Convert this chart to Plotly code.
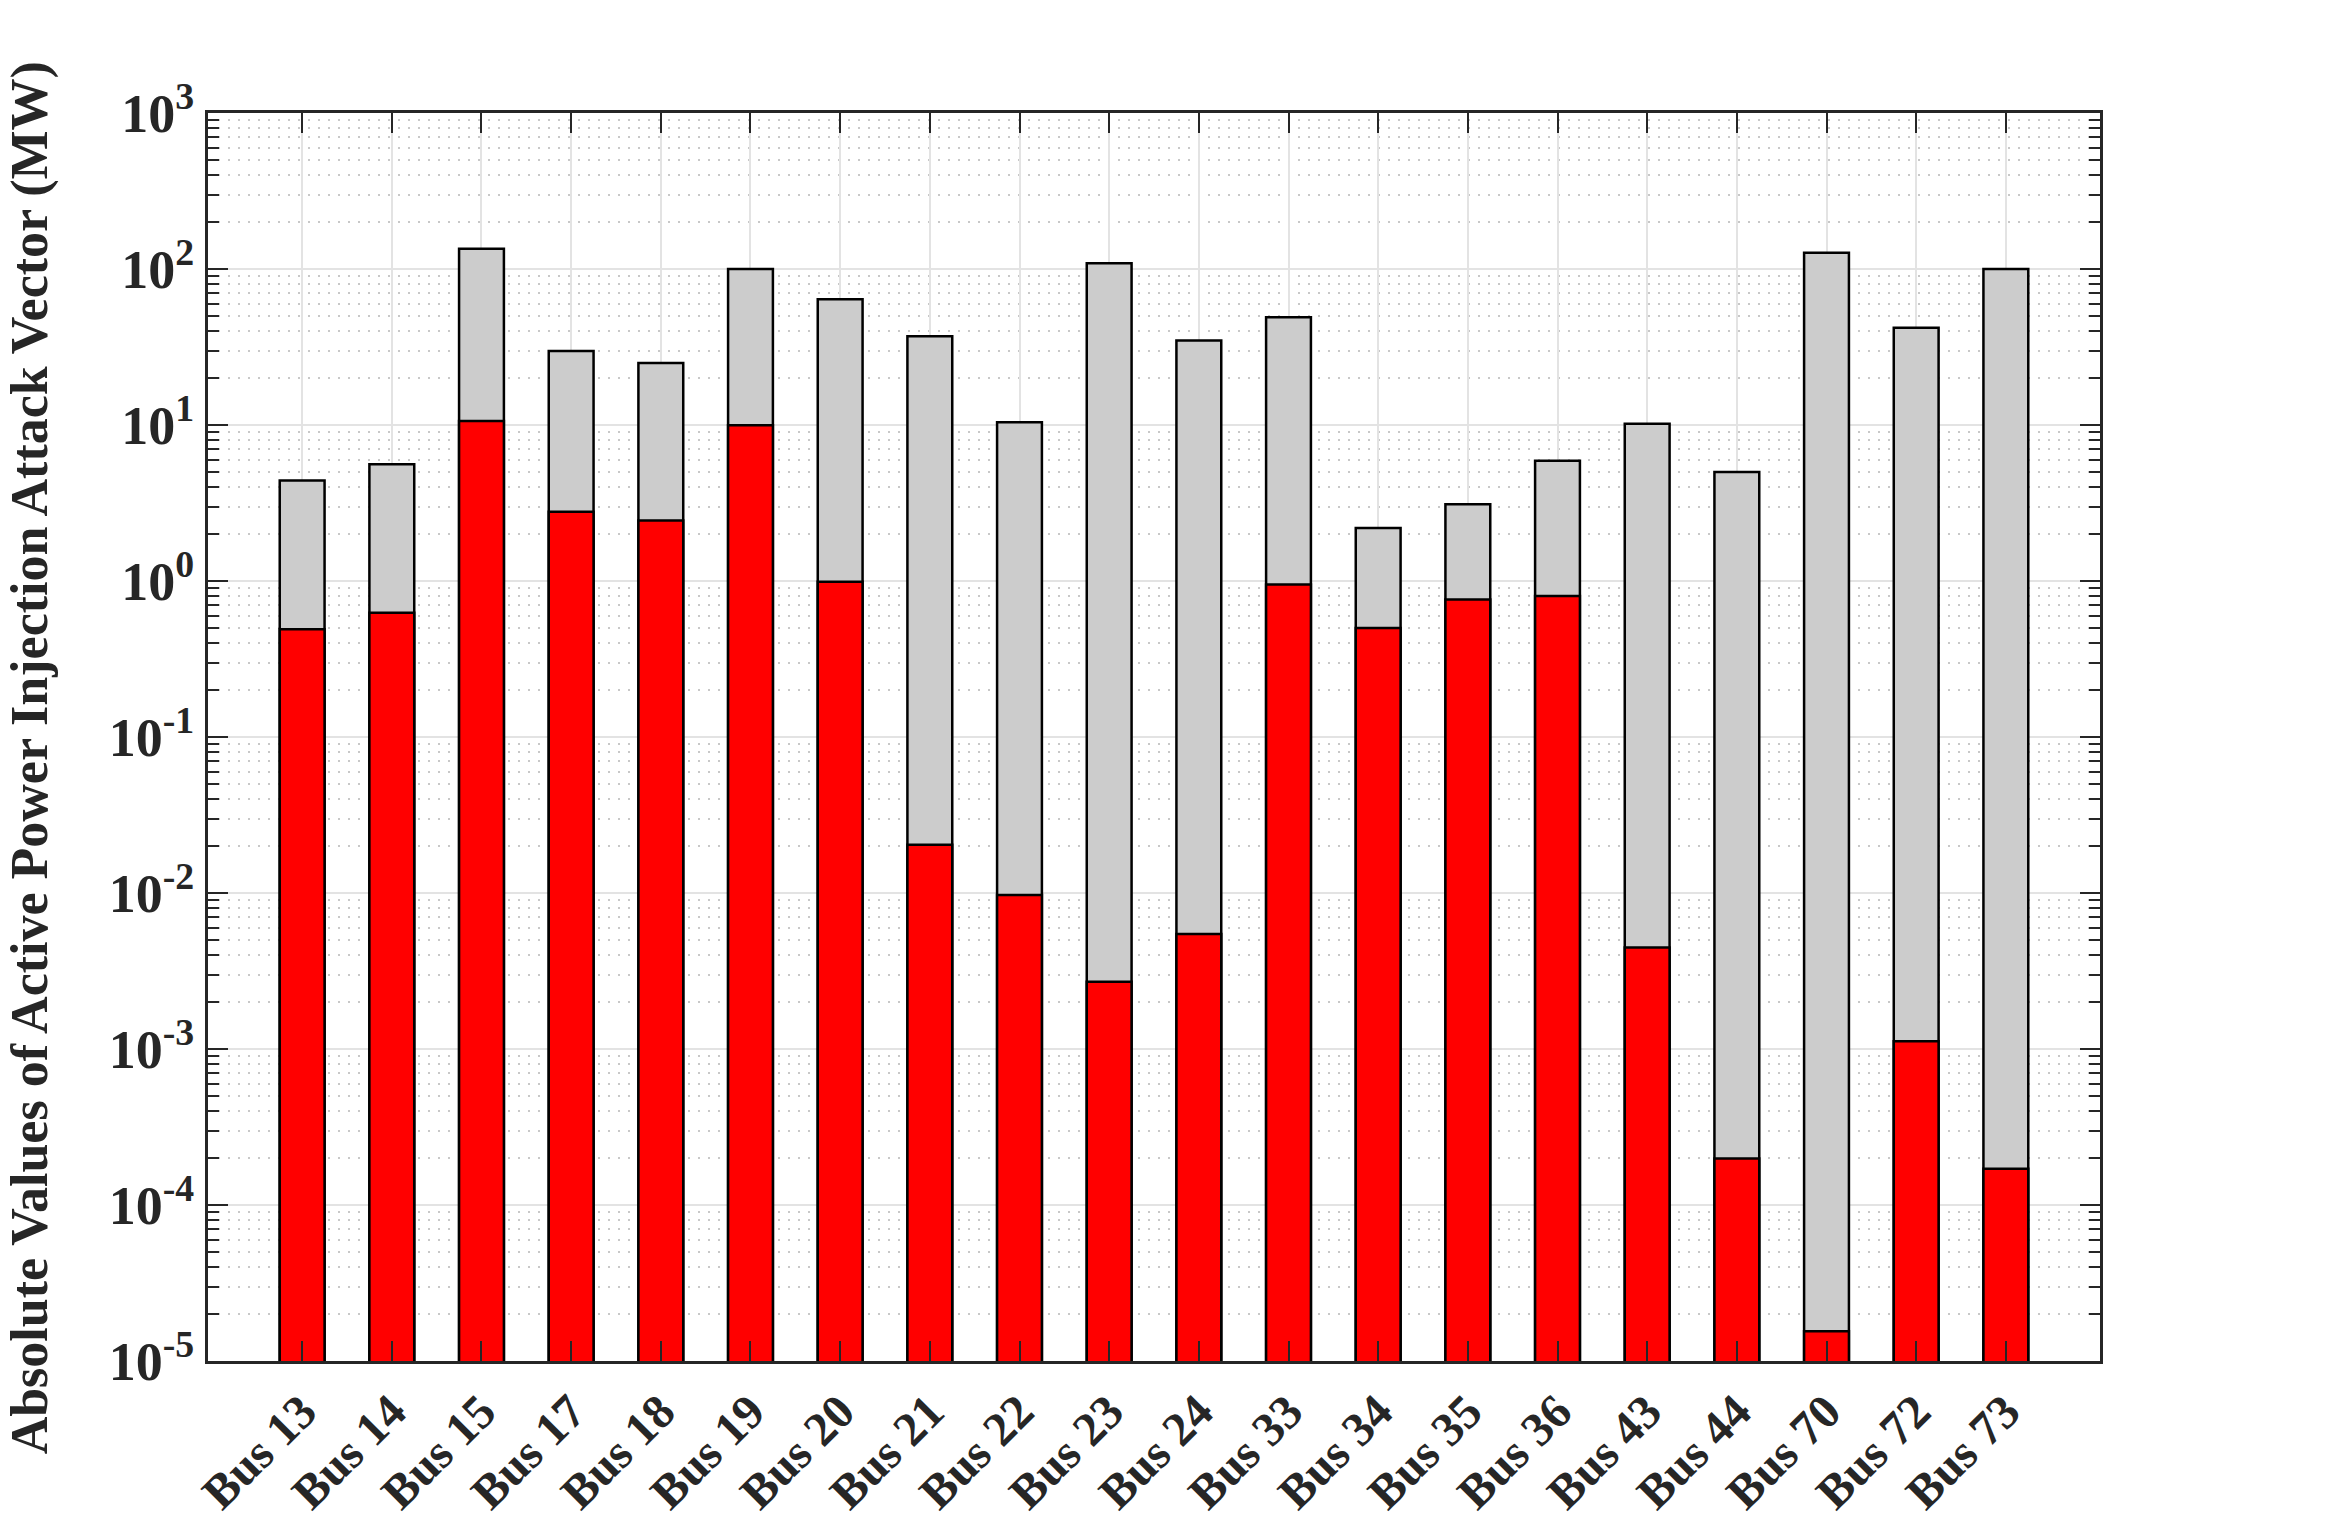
import plotly.graph_objects as go

buses = ["Bus 13", "Bus 14", "Bus 15", "Bus 17", "Bus 18", "Bus 19", "Bus 20",
         "Bus 21", "Bus 22", "Bus 23", "Bus 24", "Bus 33", "Bus 34", "Bus 35",
         "Bus 36", "Bus 43", "Bus 44", "Bus 70", "Bus 72", "Bus 73"]

gray_values = [4.4, 5.6, 135, 29.8, 25, 100, 64, 37, 10.4, 109, 34.8, 49,
               2.19, 3.1, 5.9, 10.2, 5.0, 127, 42, 100]

red_values = [0.49, 0.625, 10.6, 2.78, 2.44, 9.95, 0.99, 0.0204, 0.0097, 0.0027,
              0.00546, 0.95, 0.50, 0.76, 0.80, 0.00448, 0.000198, 1.45e-5,
              0.00112, 0.00017]

exponents = [-5, -4, -3, -2, -1, 0, 1, 2, 3]

FONT = "Liberation Serif, Times New Roman, serif"
AX = "#262626"

fig = go.Figure()
fig.add_trace(go.Bar(x=list(range(len(buses))), y=gray_values, width=0.5,
                     marker=dict(color="#CCCCCC", line=dict(color="black", width=2.5)),
                     base=1e-6, showlegend=False))
fig.add_trace(go.Bar(x=list(range(len(buses))), y=red_values, width=0.5,
                     marker=dict(color="#FF0000", line=dict(color="black", width=2.5)),
                     base=1e-6, showlegend=False))

major_vals = [10.0 ** e for e in exponents]
major_text = ["<b>10<sup>%d</sup></b>" % e for e in exponents]
minor_vals = [k * 10.0 ** e for e in exponents[:-1] for k in range(2, 10)]

fig.update_layout(
    barmode="overlay",
    width=2332, height=1529,
    margin=dict(l=208, r=232, t=113, b=168, autoexpand=False),
    paper_bgcolor="white", plot_bgcolor="white",
    font=dict(family=FONT, color=AX, size=44),
    annotations=[dict(
        text="<b>Absolute Values of Active Power Injection Attack Vector (MW)</b>",
        xref="paper", yref="paper", x=-0.094, y=0.483, xanchor="center", yanchor="middle",
        textangle=-90, showarrow=False, font=dict(family=FONT, size=52, color=AX))],
)

fig.update_xaxes(
    range=[-1.05, 20.05],
    tickmode="array", tickvals=list(range(len(buses))),
    ticktext=["<b>%s</b>" % b for b in buses],
    tickangle=-45, tickfont=dict(family=FONT, size=48, color=AX),
    ticks="inside", ticklen=20, tickwidth=2, tickcolor=AX,
    showline=True, linecolor=AX, linewidth=3, mirror="ticks",
    showgrid=True, gridcolor="#E3E3E3", gridwidth=2,
    zeroline=False,
)

fig.update_yaxes(
    type="log", range=[-5, 3],
    tickmode="array", tickvals=major_vals, ticktext=major_text,
    tickfont=dict(family=FONT, size=54, color=AX),
    ticks="inside", ticklen=20, tickwidth=2, tickcolor=AX,
    showline=True, linecolor=AX, linewidth=3, mirror="ticks",
    showgrid=True, gridcolor="#E3E3E3", gridwidth=2,
    minor=dict(tickmode="array", tickvals=minor_vals, ticks="inside", ticklen=11,
               tickwidth=2, tickcolor=AX, showgrid=True, gridcolor="#C8C8C8",
               griddash="2px,8px", gridwidth=2),
    zeroline=False,
)

fig.write_html("out.html")
